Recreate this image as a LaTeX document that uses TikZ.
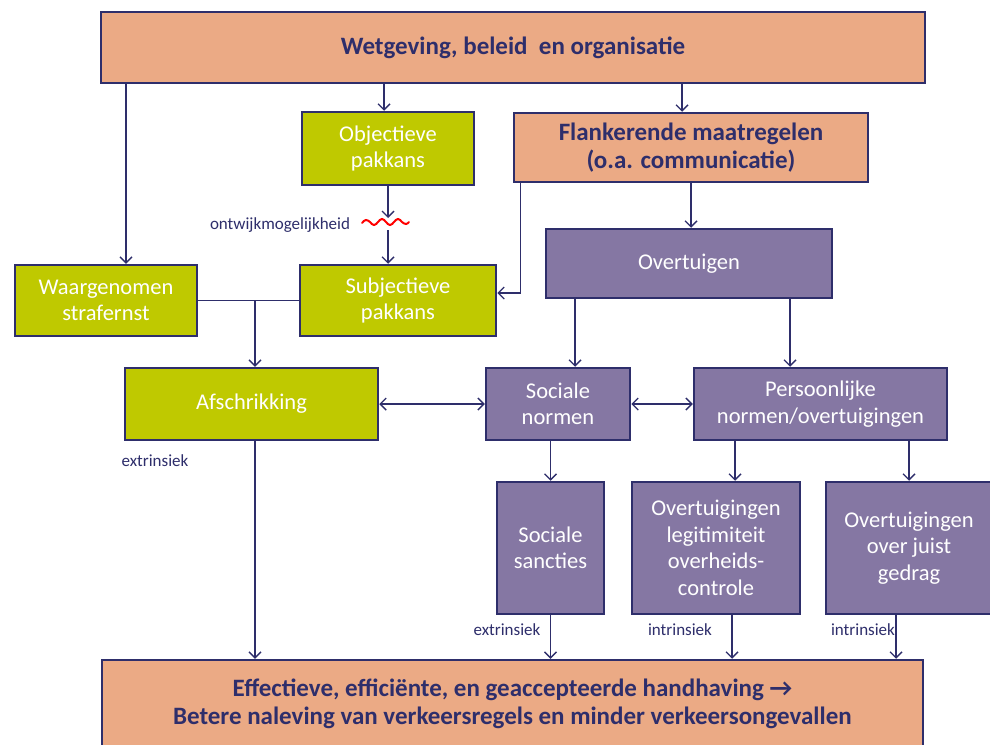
\documentclass[tikz,border=0pt]{standalone}
\usepackage{fontspec}
\setmainfont{Carlito}
\usetikzlibrary{arrows.meta}
\definecolor{navy}{HTML}{2E2E6B}
\definecolor{salmon}{HTML}{EBAA85}
\definecolor{lime}{HTML}{BFC900}
\definecolor{lilac}{HTML}{8577A3}
\tikzset{
  box/.style={draw=navy, line width=2.5pt, align=center, inner sep=0pt},
  gbox/.style={box, fill=lime, text=white, font=\fontsize{22.5}{26.5}\selectfont},
  pbox/.style={box, fill=lilac, text=white, font=\fontsize{22.5}{26.5}\selectfont},
  sbox/.style={box, fill=salmon, text=navy, font=\fontsize{25}{28.5}\selectfont\bfseries},
  conn/.style={draw=navy, line width=1.4pt},
  arr/.style={conn, -{Straight Barb[length=6pt,width=12pt,line width=1.4pt]}},
  arrs/.style={conn, {Straight Barb[length=6pt,width=12pt,line width=1.4pt]}-{Straight Barb[length=6pt,width=12pt,line width=1.4pt]}},
  lbl/.style={text=navy, font=\fontsize{17}{19}\selectfont, inner sep=0pt}
}
\begin{document}
\begin{tikzpicture}[x=1pt,y=-1pt]
\clip (0,0) rectangle (990,744);
\fill[white] (0,0) rectangle (990,744);
% nodes
\node[sbox, minimum width=824pt, minimum height=71pt] (top) at (513,47.5) {Wetgeving, beleid\ \ en organisatie};
\node[gbox, minimum width=172pt, minimum height=73pt] (obj) at (388,148.5) {Objectieve\\pakkans};
\node[sbox, minimum width=354pt, minimum height=69pt] (flank) at (691,147.5) {Flankerende maatregelen\\(o.a. communicatie)};
\node[pbox, minimum width=286pt, minimum height=69pt] (overt) at (689,263.5) {Overtuigen};
\node[gbox, minimum width=182pt, minimum height=71pt] (waar) at (106,300.5) {Waargenomen\\strafernst};
\node[gbox, minimum width=196pt, minimum height=71pt] (subj) at (398,300.5) {Subjectieve\\pakkans};
\node[gbox, minimum width=253pt, minimum height=72pt] (afsch) at (251.5,404) {Afschrikking};
\node[pbox, minimum width=144pt, minimum height=72pt] (socn) at (558,404) {Sociale\\normen};
\node[pbox, minimum width=253pt, minimum height=72pt] (pers) at (820.5,404) {Persoonlijke\\normen/overtuigingen};
\node[pbox, minimum width=107pt, minimum height=132pt] (socs) at (550.5,548) {Sociale\\sancties};
\node[pbox, minimum width=168pt, minimum height=132pt] (legit) at (716,548) {Overtuigingen\\legitimiteit\\overheids-\\controle};
\node[pbox, minimum width=166pt, minimum height=132pt] (juist) at (909,548) {Overtuigingen\\over juist\\gedrag};
\node[sbox, minimum width=821pt, minimum height=88pt] (bot) at (512.5,704) {Effectieve, efficiënte, en geaccepteerde handhaving \char"2192\\Betere naleving van verkeersregels en minder verkeersongevallen};
% labels
\node[lbl] (l1) at (280,225) {ontwijkmogelijkheid};
\node[lbl] (l2) at (155,461) {extrinsiek};
\node[lbl] (l3) at (507,630) {extrinsiek};
\node[lbl] (l4) at (680,630) {intrinsiek};
\node[lbl] (l5) at (863,630) {intrinsiek};
% helper coordinates
\coordinate (c1) at ([xshift=-4pt]obj.north);
\coordinate (c2) at ([xshift=-9pt]flank.north);
\coordinate (c3) at ([xshift=20pt]waar.north);
\coordinate (sqtop) at (388,218);
\coordinate (sqbot) at (388,230);
\coordinate (c4) at ([xshift=-10pt]subj.north);
\coordinate (f1) at ([xshift=8pt]flank.south west);
\coordinate (s1) at ([yshift=7.5pt]subj.east);
\coordinate (c5) at ([xshift=3.5pt]afsch.north);
\coordinate (c6) at ([xshift=17pt]socn.north);
\coordinate (c7) at ([xshift=-30.5pt]pers.north);
\coordinate (c8) at ([xshift=19pt]legit.north);
\coordinate (c9) at ([xshift=3.5pt]afsch.south);
\coordinate (c10) at ([xshift=16pt]legit.south);
\coordinate (c11) at ([xshift=-13pt]juist.south);
% connectors
\draw[arr] (top.south -| c1) -- (c1);
\draw[arr] (top.south -| c2) -- (c2);
\draw[arr] (top.south -| c3) -- (c3);
\draw[arr] (obj.south -| sqtop) -- (sqtop);
\draw[arr] (sqbot) -- (c4);
\draw[arr] (f1) |- (s1);
\draw[arr] (flank.south) -- (flank.south |- overt.north);
\draw[conn] (waar.east) -- (subj.west);
\draw[arr] (c5 |- waar.east) -- (c5);
\draw[arrs] (afsch.east) -- (socn.west);
\draw[arrs] (socn.east) -- (pers.west);
\draw[arr] (c6 |- overt.south) -- (c6);
\draw[arr] (c7 |- overt.south) -- (c7);
\draw[arr] (socn.south -| socs.north) -- (socs.north);
\draw[arr] (pers.south -| c8) -- (c8);
\draw[arr] (pers.south -| juist.north) -- (juist.north);
\draw[arr] (c9) -- (c9 |- bot.north);
\draw[arr] (socs.south) -- (socs.south |- bot.north);
\draw[arr] (c10) -- (c10 |- bot.north);
\draw[arr] (c11) -- (c11 |- bot.north);
% squiggle
\draw[red, line width=2pt, line cap=round]
  (362,223) sin (366,220) cos (370,222) sin (374,225) cos (378,222)
  sin (382,219) cos (386,222) sin (390,225) cos (394,222)
  sin (398,219) cos (402,222) sin (406,224) cos (409,222);
\end{tikzpicture}
\end{document}
